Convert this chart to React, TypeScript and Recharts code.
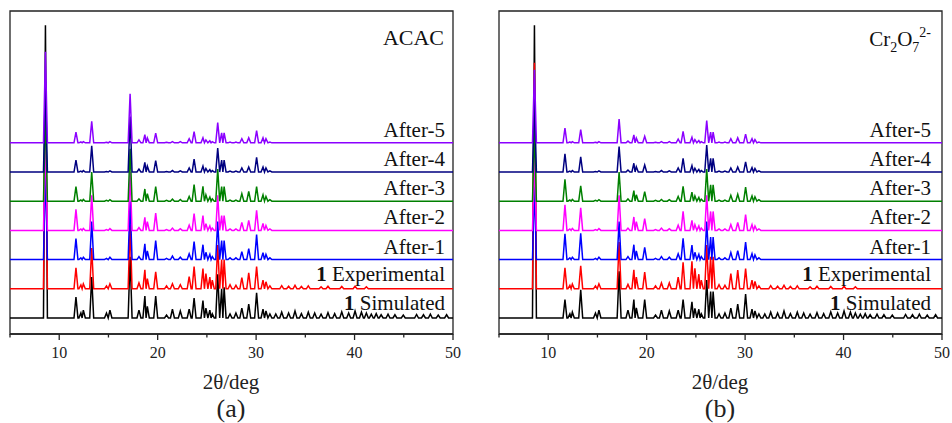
import React from 'react';
import { LineChart, Line, XAxis, YAxis, ReferenceArea } from 'recharts';

// 2θ positions of the main reflections (shared by every pattern)
const PEAK_POS = [
  8.6, 11.7, 12.2, 12.45, 13.3, 14.8, 15.15, 17.2, 18.1, 18.7, 18.95, 19.8, 20.9, 21.5, 22.3, 23.2,
  23.7, 24.6, 24.9, 25.3, 25.55, 26.1, 26.5, 26.75, 27.35, 27.95, 28.55, 29.25, 30.05, 30.7, 31.0, 31.4,
];

// weak high-angle reflections
const SIM_HI_POS = [
  32.0, 32.6, 33.3, 33.95, 34.6, 35.3, 35.95, 36.6, 37.3, 37.98, 38.7, 39.4, 40.05, 40.7, 41.2, 41.7,
  42.2, 42.7, 43.4, 44.1, 44.95, 46.3, 47.0, 47.7, 48.5, 49.35,
];
const SIM_HI_H = [
  140, 200, 170, 240, 150, 200, 170, 130, 180, 150, 210, 170, 240, 200, 170, 130,
  150, 110, 130, 110, 100, 120, 110, 130, 100, 110,
];
const EXP_HI_POS = [32.6, 33.3, 33.95, 34.6, 35.3, 36.6, 37.3, 38.7, 40.05, 41.2];
const EXP_HI_H = [110, 90, 120, 80, 100, 70, 90, 80, 90, 70];

// ACAC panel intensities (same order as PEAK_POS)
const ACAC_SIM = [10030, 720, 170, 270, 1400, 170, 270, 2100, 270, 750, 400, 750, 100, 300, 240, 300, 680, 600, 340, 270, 140, 1500, 1000, 1050, 140, 170, 340, 480, 860, 300, 240, 140];
const ACAC_EXP = [7000, 720, 130, 170, 1400, 100, 170, 2200, 200, 650, 350, 580, 100, 170, 140, 420, 760, 690, 520, 400, 300, 1500, 1000, 1000, 140, 120, 380, 550, 760, 300, 240, 100];
const ACAC_A1 = [3100, 720, 60, 80, 1300, 40, 80, 2000, 100, 540, 300, 650, 40, 120, 80, 200, 620, 510, 250, 180, 100, 1300, 650, 650, 60, 60, 270, 380, 860, 240, 180, 60];
const ACAC_A2 = [3100, 720, 50, 70, 1200, 30, 60, 2000, 100, 450, 300, 590, 30, 80, 60, 180, 580, 510, 230, 150, 80, 1200, 510, 510, 50, 50, 270, 340, 690, 240, 170, 50];
const ACAC_A3 = [3100, 500, 40, 60, 1000, 30, 50, 1800, 80, 420, 260, 500, 30, 70, 60, 160, 570, 510, 220, 140, 80, 1100, 500, 500, 40, 40, 260, 340, 500, 220, 160, 50];
const ACAC_A4 = [3100, 410, 30, 50, 900, 20, 40, 1900, 100, 330, 200, 390, 20, 50, 40, 140, 440, 200, 120, 80, 50, 820, 410, 410, 30, 30, 140, 170, 500, 170, 140, 40];
const ACAC_A5 = [3120, 370, 30, 40, 740, 20, 40, 1680, 100, 280, 170, 330, 20, 40, 40, 140, 380, 170, 100, 70, 40, 690, 340, 340, 30, 30, 140, 170, 420, 170, 140, 30];

// Cr2O7 2- panel intensities
const CR_SIM = [10030, 630, 140, 200, 970, 170, 270, 1600, 270, 630, 350, 630, 100, 270, 240, 270, 630, 550, 330, 300, 140, 1300, 910, 910, 140, 170, 340, 480, 820, 300, 240, 140];
const CR_EXP = [7740, 720, 120, 160, 790, 100, 170, 1600, 150, 650, 400, 570, 100, 200, 200, 400, 910, 940, 700, 500, 300, 1500, 1100, 1100, 140, 120, 520, 640, 690, 300, 250, 100];
const CR_A1 = [2500, 880, 60, 80, 900, 40, 80, 1300, 100, 510, 300, 420, 40, 100, 80, 200, 730, 500, 250, 180, 100, 1300, 770, 770, 60, 60, 240, 310, 600, 200, 160, 60];
const CR_A2 = [2500, 880, 50, 70, 770, 30, 60, 1200, 80, 460, 300, 400, 30, 80, 60, 180, 650, 340, 200, 150, 80, 1200, 650, 650, 50, 50, 200, 270, 540, 200, 150, 50];
const CR_A3 = [2500, 750, 40, 60, 530, 30, 50, 1000, 80, 360, 220, 330, 30, 60, 50, 160, 510, 310, 180, 130, 70, 1100, 560, 560, 40, 40, 200, 240, 480, 180, 150, 50];
const CR_A4 = [2500, 620, 30, 50, 520, 20, 40, 870, 70, 300, 180, 240, 20, 50, 40, 140, 470, 220, 130, 90, 50, 920, 470, 470, 30, 30, 140, 170, 350, 150, 120, 40];
const CR_A5 = [2500, 500, 30, 40, 450, 20, 40, 810, 60, 270, 160, 220, 20, 40, 40, 130, 390, 190, 110, 80, 40, 760, 370, 370, 30, 30, 140, 170, 300, 140, 110, 30];

const SERIES_NAMES = ['Simulated', 'Experimental', 'After-1', 'After-2', 'After-3', 'After-4', 'After-5'];
const SERIES_COLORS = ['#000000', '#ff0000', '#0000ff', '#ff00ff', '#008000', '#000080', '#8b00ff'];
const OFFSETS = [0, 1000, 2000, 3000, 4000, 5000, 6000];
const X_TICKS = [5, 10, 15, 20, 25, 30, 35, 40, 45, 50];

const Y_MIN = -548;
const Y_MAX = 10515;
const PLOT_TOP = 11;
const PLOT_BOTTOM = 334;
const FOOT = 0.2; // half width of a peak at its base, deg
const FONT = '"Liberation Serif", "Times New Roman", serif';

type Pt = { x: number; y: number };

function buildPattern(heights: number[], offset: number, hiPos: number[] = [], hiH: number[] = []): Pt[] {
  const peaks = PEAK_POS.map((p, i) => [p, heights[i]]).concat(hiPos.map((p, i) => [p, hiH[i]]));
  peaks.sort((a, b) => a[0] - b[0]);
  const pts: Pt[] = [{ x: 5, y: offset }];
  peaks.forEach(([p, h], i) => {
    // keep feet from crossing into the neighbouring peak
    const lo = i > 0 ? Math.max(p - FOOT, (p + peaks[i - 1][0]) / 2) : p - FOOT;
    const hi = i < peaks.length - 1 ? Math.min(p + FOOT, (p + peaks[i + 1][0]) / 2) : p + FOOT;
    pts.push({ x: lo, y: offset }, { x: p, y: offset + h }, { x: hi, y: offset });
  });
  pts.push({ x: 50, y: offset });
  return pts;
}

const yPx = (v: number) => PLOT_TOP + ((Y_MAX - v) / (Y_MAX - Y_MIN)) * (PLOT_BOTTOM - PLOT_TOP);

const Tick = (props: any) => {
  const { x, y, payload } = props;
  const major = payload.value % 10 === 0;
  return (
    <g>
      <line x1={x} x2={x} y1={y} y2={y + (major ? 6 : 3.5)} stroke="#222" strokeWidth={1.3} />
      {major && payload.value !== 5 && (
        <text x={x} y={y + 24} textAnchor="middle" fontFamily={FONT} fontSize={16} fill="#222">
          {payload.value}
        </text>
      )}
    </g>
  );
};

function Panel({ sets, marginLeft, marginRight }: { sets: number[][]; marginLeft: number; marginRight: number }) {
  return (
    <LineChart width={476} height={423} margin={{ top: PLOT_TOP, right: marginRight, bottom: 0, left: marginLeft }}>
      <XAxis
        type="number"
        dataKey="x"
        domain={[5, 50]}
        ticks={X_TICKS}
        interval={0}
        tick={<Tick />}
        tickLine={false}
        tickSize={0}
        tickMargin={0}
        height={423 - PLOT_BOTTOM}
        stroke="#222"
        strokeWidth={1.3}
        allowDataOverflow
      />
      <YAxis type="number" domain={[Y_MIN, Y_MAX]} hide allowDataOverflow />
      <ReferenceArea x1={5} x2={50} y1={Y_MIN} y2={Y_MAX} fill="none" stroke="#222" strokeWidth={1.3} />
      {sets.map((h, i) => (
        <Line
          key={SERIES_NAMES[i]}
          data={
            i === 0
              ? buildPattern(h, OFFSETS[i], SIM_HI_POS, SIM_HI_H)
              : i === 1
              ? buildPattern(h, OFFSETS[i], EXP_HI_POS, EXP_HI_H)
              : buildPattern(h, OFFSETS[i])
          }
          dataKey="y"
          type="linear"
          stroke={SERIES_COLORS[i]}
          strokeWidth={1.5}
          dot={false}
          activeDot={false}
          isAnimationActive={false}
        />
      ))}
    </LineChart>
  );
}

function SeriesLabels({ right }: { right: number }) {
  return (
    <g fontFamily={FONT} fontSize={21} fill="#111" textAnchor="end">
      {SERIES_NAMES.map((name, i) => (
        <text key={name} x={right} y={yPx(OFFSETS[i]) - (i < 2 ? 8 : 6)}>
          {i < 2 ? (
            <>
              <tspan fontWeight="bold">1</tspan>
              <tspan> {name}</tspan>
            </>
          ) : (
            name
          )}
        </text>
      ))}
    </g>
  );
}

export default function App() {
  return (
    <div style={{ position: 'absolute', left: 0, top: 0, width: 952, height: 423, background: '#fff' }}>
      <div style={{ position: 'absolute', left: 0, top: 0 }}>
        <Panel sets={[ACAC_SIM, ACAC_EXP, ACAC_A1, ACAC_A2, ACAC_A3, ACAC_A4, ACAC_A5]} marginLeft={10} marginRight={23} />
      </div>
      <div style={{ position: 'absolute', left: 476, top: 0 }}>
        <Panel sets={[CR_SIM, CR_EXP, CR_A1, CR_A2, CR_A3, CR_A4, CR_A5]} marginLeft={23} marginRight={10} />
      </div>
      <svg width={952} height={423} style={{ position: 'absolute', left: 0, top: 0, pointerEvents: 'none' }}>
        <text x={444} y={45} textAnchor="end" fontFamily={FONT} fontSize={22} fill="#111">ACAC</text>
        <text x={931} y={46} textAnchor="end" fontFamily={FONT} fontSize={21} fill="#111">
          Cr
          <tspan fontSize={14} dy={6}>2</tspan>
          <tspan dy={-6}>O</tspan>
          <tspan fontSize={14} dy={6}>7</tspan>
          <tspan fontSize={14} dy={-15}>2-</tspan>
        </text>
        <SeriesLabels right={445} />
        <SeriesLabels right={931} />
        <g fontFamily={FONT} fill="#222" textAnchor="middle">
          <text x={231} y={389} fontSize={21}>2θ/deg</text>
          <text x={720} y={389} fontSize={21}>2θ/deg</text>
          <text x={231} y={417} fontSize={26}>(a)</text>
          <text x={720} y={417} fontSize={26}>(b)</text>
        </g>
      </svg>
    </div>
  );
}
